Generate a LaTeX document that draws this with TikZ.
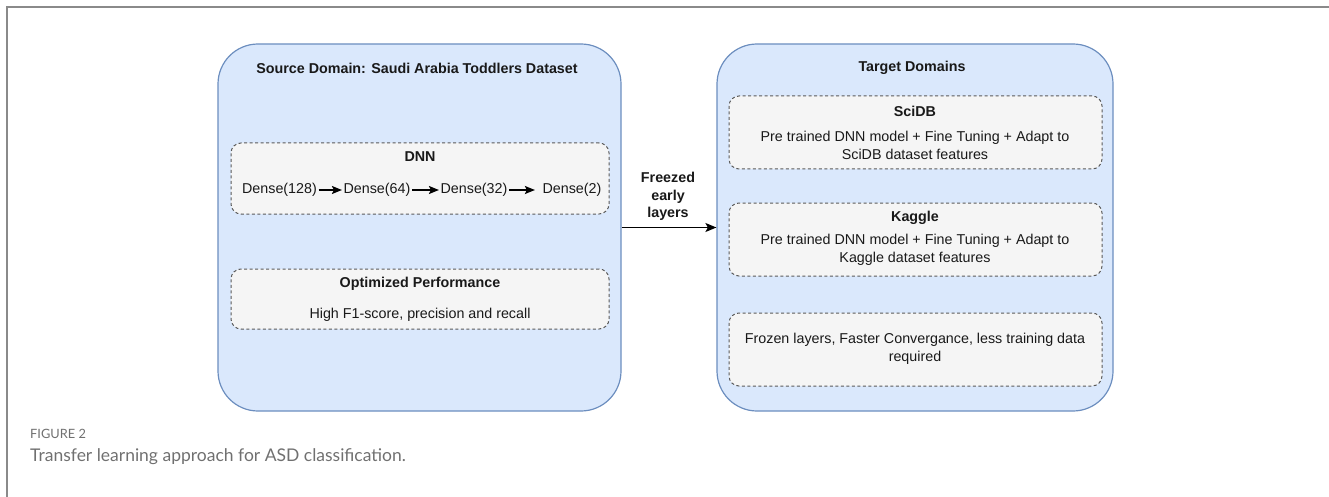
\documentclass[tikz,border=0pt]{standalone}
\usepackage{fontspec}
\setmainfont{Liberation Sans}
\newfontfamily\capfont{Lato}
\usetikzlibrary{arrows.meta}
\definecolor{domfill}{HTML}{DAE8FC}
\definecolor{domdraw}{HTML}{6C8EBF}
\definecolor{innfill}{HTML}{F5F5F5}
\definecolor{inndraw}{HTML}{5A5A5A}
\definecolor{frameg}{HTML}{8A8A8A}
\definecolor{capg}{HTML}{707070}
\tikzset{
  dombox/.style={draw=domdraw, fill=domfill, line width=1.2pt, rounded corners=40pt, inner sep=0pt},
  innbox/.style={draw=inndraw, fill=innfill, dash pattern=on 3pt off 2.5pt, line width=1pt, rounded corners=10pt, inner sep=0pt},
  txt/.style={font=\fontsize{14.3}{17.5}\selectfont, text=black!90, inner sep=0pt, align=center},
  btxt/.style={txt, font=\fontsize{14.3}{17.5}\selectfont\bfseries},
  dtxt/.style={txt, inner sep=1.5pt},
  conn/.style={-{Stealth[length=10pt,width=8pt,inset=2pt]}, line width=1.5pt, black},
  mainarrow/.style={-{Stealth[length=11pt,width=9pt,inset=2.5pt]}, line width=1.3pt, black},
}
\begin{document}
\begin{tikzpicture}[x=1pt,y=-1pt]
\useasboundingbox (0,0) rectangle (1329,497);
% frame
\draw[frameg, line width=2pt] (7,497) -- (7,7.5) -- (1329,7.5);
% domains
\node[dombox, minimum width=403pt, minimum height=367pt] (src) at (419.5,227.5) {};
\node[dombox, minimum width=396pt, minimum height=367pt] (tgt) at (915,227.5) {};
\node[btxt] (srct) at (417,68) {Source Domain: Saudi Arabia Toddlers Dataset};
\node[btxt] (tgtt) at (912,68) {Target Domains};
% DNN box
\node[innbox, minimum width=378pt, minimum height=71pt] (dnn) at (420,178.5) {};
\node[btxt] (dnnt) at (420,157) {DNN};
\node[dtxt] (d1) at (279.5,190) {Dense(128)};
\node[dtxt] (d2) at (377,190) {Dense(64)};
\node[dtxt] (d3) at (474,190) {Dense(32)};
\node[dtxt] (d4) at (572,190) {Dense(2)};
\draw[conn] (d1) -- (d2);
\draw[conn] (d2) -- (d3);
\draw[conn] (d3) -- ([xshift=-6pt]d4.west);
% Optimized
\node[innbox, minimum width=378pt, minimum height=60pt] (opt) at (420,299) {};
\node[btxt] (optt) at (420,284) {Optimized Performance};
\node[txt] (optx) at (420,315) {High F1-score, precision and recall};
% target boxes
\node[innbox, minimum width=373pt, minimum height=73pt] (sci) at (915.5,132.5) {};
\node[btxt] (scit) at (915,111) {SciDB};
\node[txt] (scix) at (915,145.5) {Pre trained DNN model + Fine Tuning + Adapt to\\SciDB dataset features};
\node[innbox, minimum width=373pt, minimum height=73pt] (kag) at (915.5,239.5) {};
\node[btxt] (kagt) at (915,218) {Kaggle};
\node[txt] (kagx) at (915,250) {Pre trained DNN model + Fine Tuning + Adapt to\\Kaggle dataset features};
\node[innbox, minimum width=373pt, minimum height=73pt] (frz) at (915.5,349.5) {};
\node[txt] (frzx) at (915,349) {Frozen layers, Faster Convergance, less training data\\required};
% main arrow
\draw[mainarrow] (src.east) -- (tgt.west);
\node[btxt] (frzl) at (668,196.5) {Freezed\\early\\layers};
% caption
\node[anchor=base west, inner sep=0pt, text=capg, font=\capfont\fontsize{12.8}{14}\selectfont] (fig) at (30,438) {FIGURE 2};
\node[anchor=base west, inner sep=0pt, text=capg, font=\capfont\fontsize{17.5}{20}\selectfont] (cap) at (30,461) {Transfer learning approach for ASD classification.};
\end{tikzpicture}
\end{document}
